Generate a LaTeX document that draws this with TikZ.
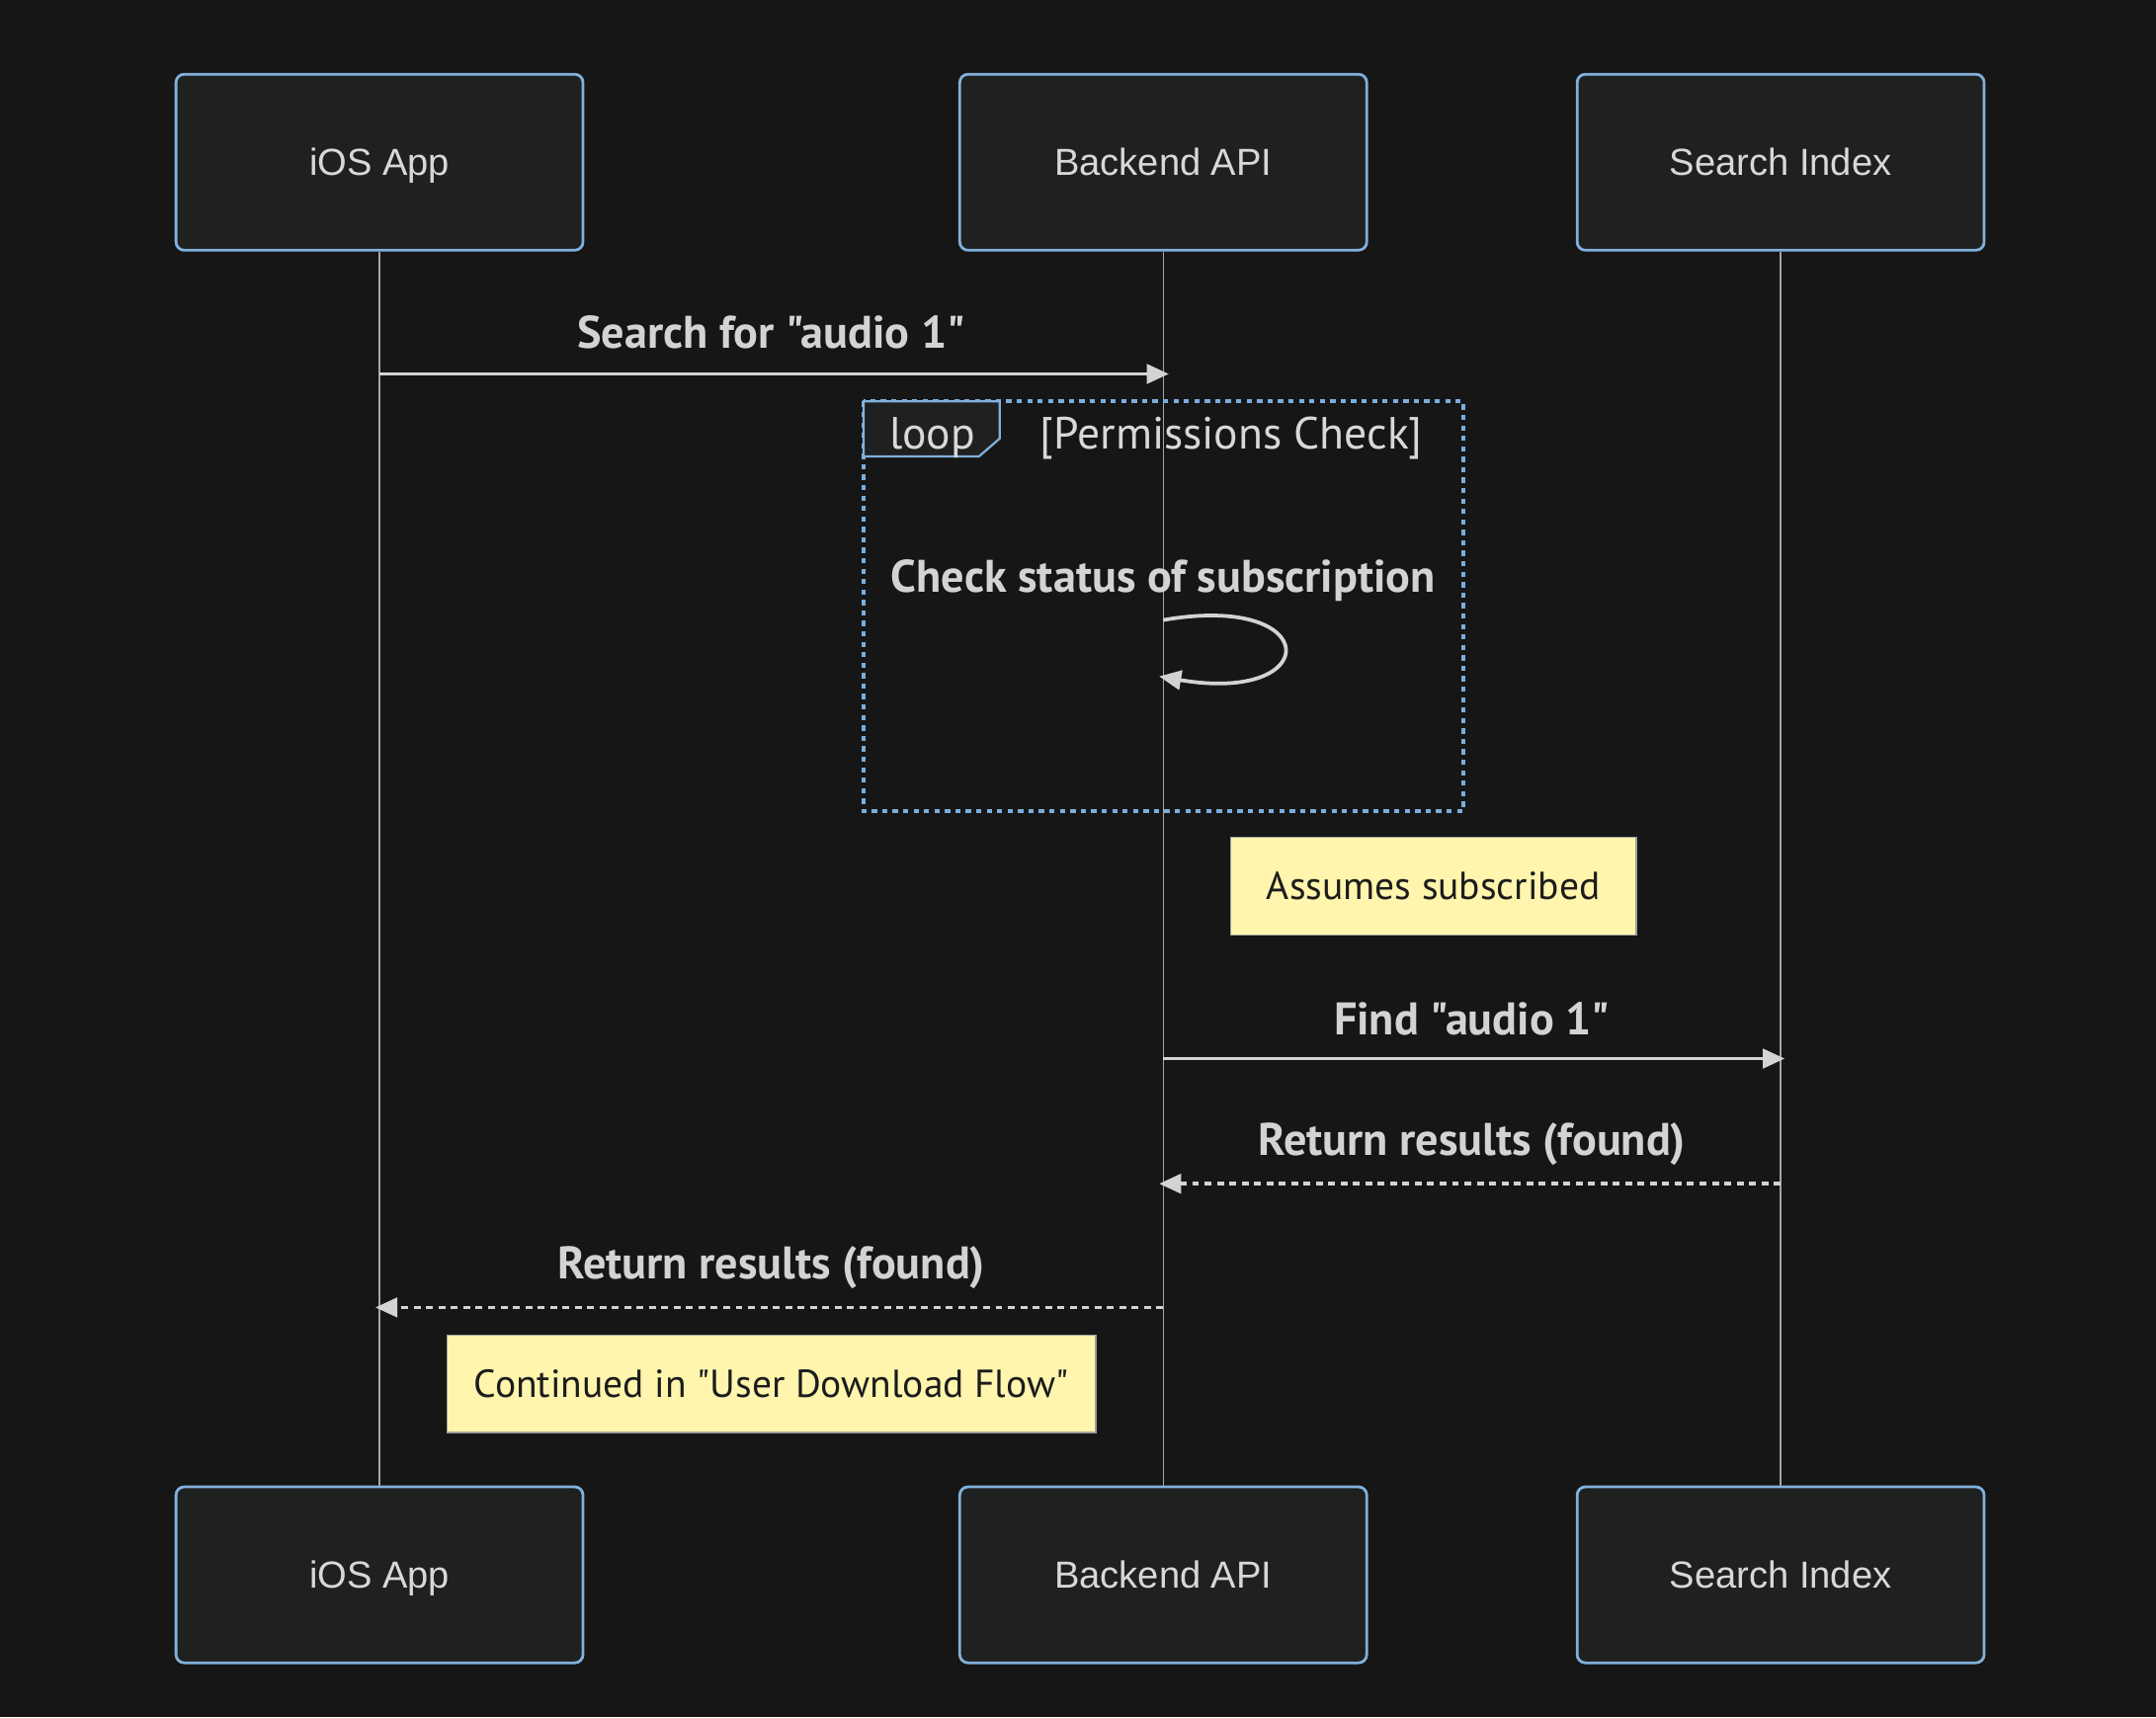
\documentclass[tikz,border=0pt]{standalone}
\usepackage{fontspec}
\setmainfont{PT Sans}[Ligatures=TeXOff]
\newfontfamily\actorfont{Liberation Sans}
\usetikzlibrary{arrows.meta}
\definecolor{bg}{RGB}{22,22,22}
\definecolor{actorfill}{RGB}{31,32,32}
\definecolor{actorline}{RGB}{129,177,219}
\definecolor{sig}{RGB}{211,211,211}
\definecolor{lbl}{RGB}{216,216,216}
\definecolor{notefill}{RGB}{255,245,173}
\definecolor{noteline}{RGB}{160,160,150}
\definecolor{notetext}{RGB}{28,28,28}
\definecolor{life}{RGB}{165,165,165}
\definecolor{framedot}{RGB}{122,174,222}
\begin{document}
\begin{tikzpicture}[x=0.5pt,y=-0.5pt,
        actor/.style={draw=actorline,fill=actorfill,line width=1pt,rounded corners=3pt,
            minimum width=148pt,minimum height=64pt,text=lbl,text height=9.8pt,text depth=0pt,
            font=\actorfont\fontsize{13.7}{16}\selectfont},
        lifeline/.style={draw=life,line width=0.45pt},
        msg/.style={draw=sig,line width=1.35pt,-{Triangle[length=8pt,width=7pt]}},
        reply/.style={msg,dash pattern=on 2.5pt off 2pt},
        msgtext/.style={text=sig,font=\bfseries\fontsize{16.6}{19}\selectfont},
        looptext/.style={text=lbl,font=\fontsize{16.4}{19}\selectfont},
        frame/.style={draw=framedot,line width=1.5pt,dash pattern=on 1.9pt off 1.9pt},
        tab/.style={draw=actorline,fill=actorfill,line width=0.8pt},
        note/.style={draw=noteline,fill=notefill,line width=0.5pt,text=notetext,
            minimum height=35.5pt,font=\fontsize{14.2}{16}\selectfont}]
    \fill[bg] (0,0) rectangle (1568,1249);
    \node[actor] (iosT) at (276,118) {iOS App};
    \node[actor] (apiT) at (846,118) {Backend API};
    \node[actor] (idxT) at (1295,118) {Search Index};
    \node[actor] (iosB) at (276,1145.5) {iOS App};
    \node[actor] (apiB) at (846,1145.5) {Backend API};
    \node[actor] (idxB) at (1295,1145.5) {Search Index};
    \draw[lifeline] (iosT) -- (iosB);
    \draw[lifeline] (apiT) -- (apiB);
    \draw[lifeline] (idxT) -- (idxB);
    \coordinate (s1) at (0,272);
    \coordinate (s2a) at (0,451);
    \coordinate (s2b) at (0,492);
    \coordinate (s3) at (0,770);
    \coordinate (s4) at (0,861);
    \coordinate (s5) at (0,951);
    \node[msgtext] (searchMsg) at (561,242) {Search for "audio 1"};
    \draw[msg] (iosT |- s1) -- ([xshift=2pt]apiT |- s1);
    \draw[frame] (628,292) rectangle (1064,590);
    \draw[tab] (628,292) -- (727,292) -- (727,319) -- (712,332) -- (628,332) -- cycle;
    \node[looptext] (loopLbl) at (678,318.5) {loop};
    \node[looptext] (loopCond) at (895.5,318.5) {[Permissions Check]};
    \node[msgtext] (checkMsg) at (846,422) {Check status of subscription};
    \draw[msg] (apiT |- s2a) .. controls (963,430.5) and (963,512.5) .. ([xshift=-1.5pt]apiT |- s2b);
    \node[note,minimum width=147.5pt] (subNote) at (1042.5,644.5) {Assumes subscribed};
    \node[msgtext] (findMsg) at (1070.5,741) {Find "audio 1"};
    \draw[msg] (apiT |- s3) -- ([xshift=1.5pt]idxT |- s3);
    \node[msgtext] (idxRet) at (1070.5,832) {Return results (found)};
    \draw[reply] (idxT |- s4) -- ([xshift=-1.5pt]apiT |- s4);
    \node[msgtext] (apiRet) at (561,922) {Return results (found)};
    \draw[reply] (apiT |- s5) -- ([xshift=-1.5pt]iosT |- s5);
    \node[note,minimum width=236pt] (flowNote) at (561,1006.5) {Continued in "User Download Flow"};
\end{tikzpicture}
\end{document}
